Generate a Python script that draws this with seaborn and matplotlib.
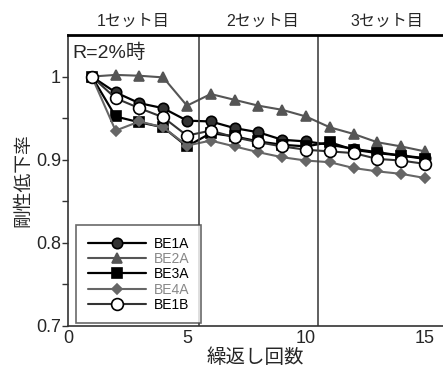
import numpy as np
import pandas as pd
import matplotlib
matplotlib.use("Agg")
import matplotlib.pyplot as plt
import seaborn as sns

cycles = list(range(1, 16))
be1a = [1.0, 0.981, 0.968, 0.962, 0.947, 0.946, 0.938, 0.933, 0.924, 0.922, 0.918, 0.913, 0.909, 0.905, 0.902]
be2a = [1.0, 1.002, 1.001, 0.999, 0.965, 0.979, 0.972, 0.965, 0.960, 0.952, 0.939, 0.931, 0.921, 0.916, 0.910]
be3a = [1.0, 0.952, 0.945, 0.939, 0.916, 0.932, 0.928, 0.922, 0.918, 0.916, 0.921, 0.912, 0.908, 0.905, 0.901]
be4a = [1.0, 0.935, 0.946, 0.939, 0.917, 0.923, 0.916, 0.909, 0.903, 0.899, 0.897, 0.890, 0.886, 0.883, 0.878]
be1b = [1.0, 0.974, 0.962, 0.951, 0.929, 0.935, 0.927, 0.921, 0.916, 0.912, 0.910, 0.908, 0.901, 0.899, 0.895]
series_names = ["BE1A", "BE2A", "BE3A", "BE4A", "BE1B"]
set_labels = ["1セット目", "2セット目", "3セット目"]
set_label_pos = [2.75, 8.2, 13.4]
set_bounds = [5.5, 10.5]

sns.set_theme(style="white")
plt.rcParams['font.family'] = ['Liberation Sans', 'Noto Sans CJK JP', 'DejaVu Sans']

fig = plt.figure(figsize=(4.43, 3.69), dpi=100)
ax = fig.add_axes([68/443, 1-326/369, 1-68/443, (326-35)/369])

styles = {
    "BE1A": dict(color="black", marker="o", mfc="#333333", mec="black", ms=7.5, lw=1.6),
    "BE2A": dict(color="#555555", marker="^", mfc="#555555", mec="#555555", ms=7, lw=1.5),
    "BE3A": dict(color="black", marker="s", mfc="black", mec="black", ms=7.5, lw=1.6),
    "BE4A": dict(color="#666666", marker="D", mfc="#666666", mec="#666666", ms=5, lw=1.5),
    "BE1B": dict(color="#333333", marker="o", mfc="white", mec="black", ms=8.5, lw=1.5),
}
data = {"BE1A": be1a, "BE2A": be2a, "BE3A": be3a, "BE4A": be4a, "BE1B": be1b}
for name in series_names:
    st = styles[name]
    df = pd.DataFrame({"x": cycles, "y": data[name]})
    sns.lineplot(data=df, x="x", y="y", ax=ax, color=st["color"], linewidth=st["lw"],
                 marker=st["marker"], markersize=st["ms"], markerfacecolor=st["mfc"],
                 markeredgecolor=st["mec"], markeredgewidth=1.2, label=name)

for b in set_bounds:
    ax.axvline(b, color="#444444", lw=1.2)

ax.set_xlim(0, 15.76)
ax.set_ylim(0.7, 1.05)
ax.set_xticks([0, 5, 10, 15])
ax.set_yticks([0.7, 0.8, 0.9, 1.0])
ax.set_yticklabels(["0.7", "0.8", "0.9", "1"])
ax.set_yticks([0.75, 0.85, 0.95], minor=True)
ax.tick_params(axis="both", which="both", direction="out", length=4, width=1, color="#333333",
               labelsize=13, pad=1, left=True, bottom=True)
ax.tick_params(axis="x", which="both", length=0, pad=3)
for s in ["left", "bottom"]:
    ax.spines[s].set_color("#333333")
    ax.spines[s].set_linewidth(1.2)
ax.spines["top"].set_color("black")
ax.spines["top"].set_linewidth(2)
ax.spines["right"].set_visible(False)

ax.set_xlabel("繰返し回数", fontsize=14, family=['Noto Sans CJK JP'], labelpad=0)
ax.set_ylabel("剛性低下率", fontsize=13.5, family=['Noto Sans CJK JP'], labelpad=2)

ax.text(0.2, 1.039, "R=2%時", fontsize=14, va="top", ha="left",
        family=['Liberation Sans', 'Noto Sans CJK JP'])

for lab, xp in zip(set_labels, set_label_pos):
    ax.text(xp, 1.066, lab, fontsize=11.5, ha="center", va="center",
            family=['Liberation Sans', 'Noto Sans CJK JP'], clip_on=False)

leg = ax.legend(loc="lower left", bbox_to_anchor=(0.015, 0.0), fontsize=10, frameon=True,
                fancybox=False, edgecolor="#444444", handlelength=4.2, labelspacing=0.1,
                borderpad=0.8, handletextpad=0.6, borderaxespad=0.2)
leg.get_frame().set_linewidth(1.2)
for txt, name in zip(leg.get_texts(), series_names):
    txt.set_color("#888888" if name in ("BE2A", "BE4A") else "black")

fig.savefig("out.png", dpi=100)
